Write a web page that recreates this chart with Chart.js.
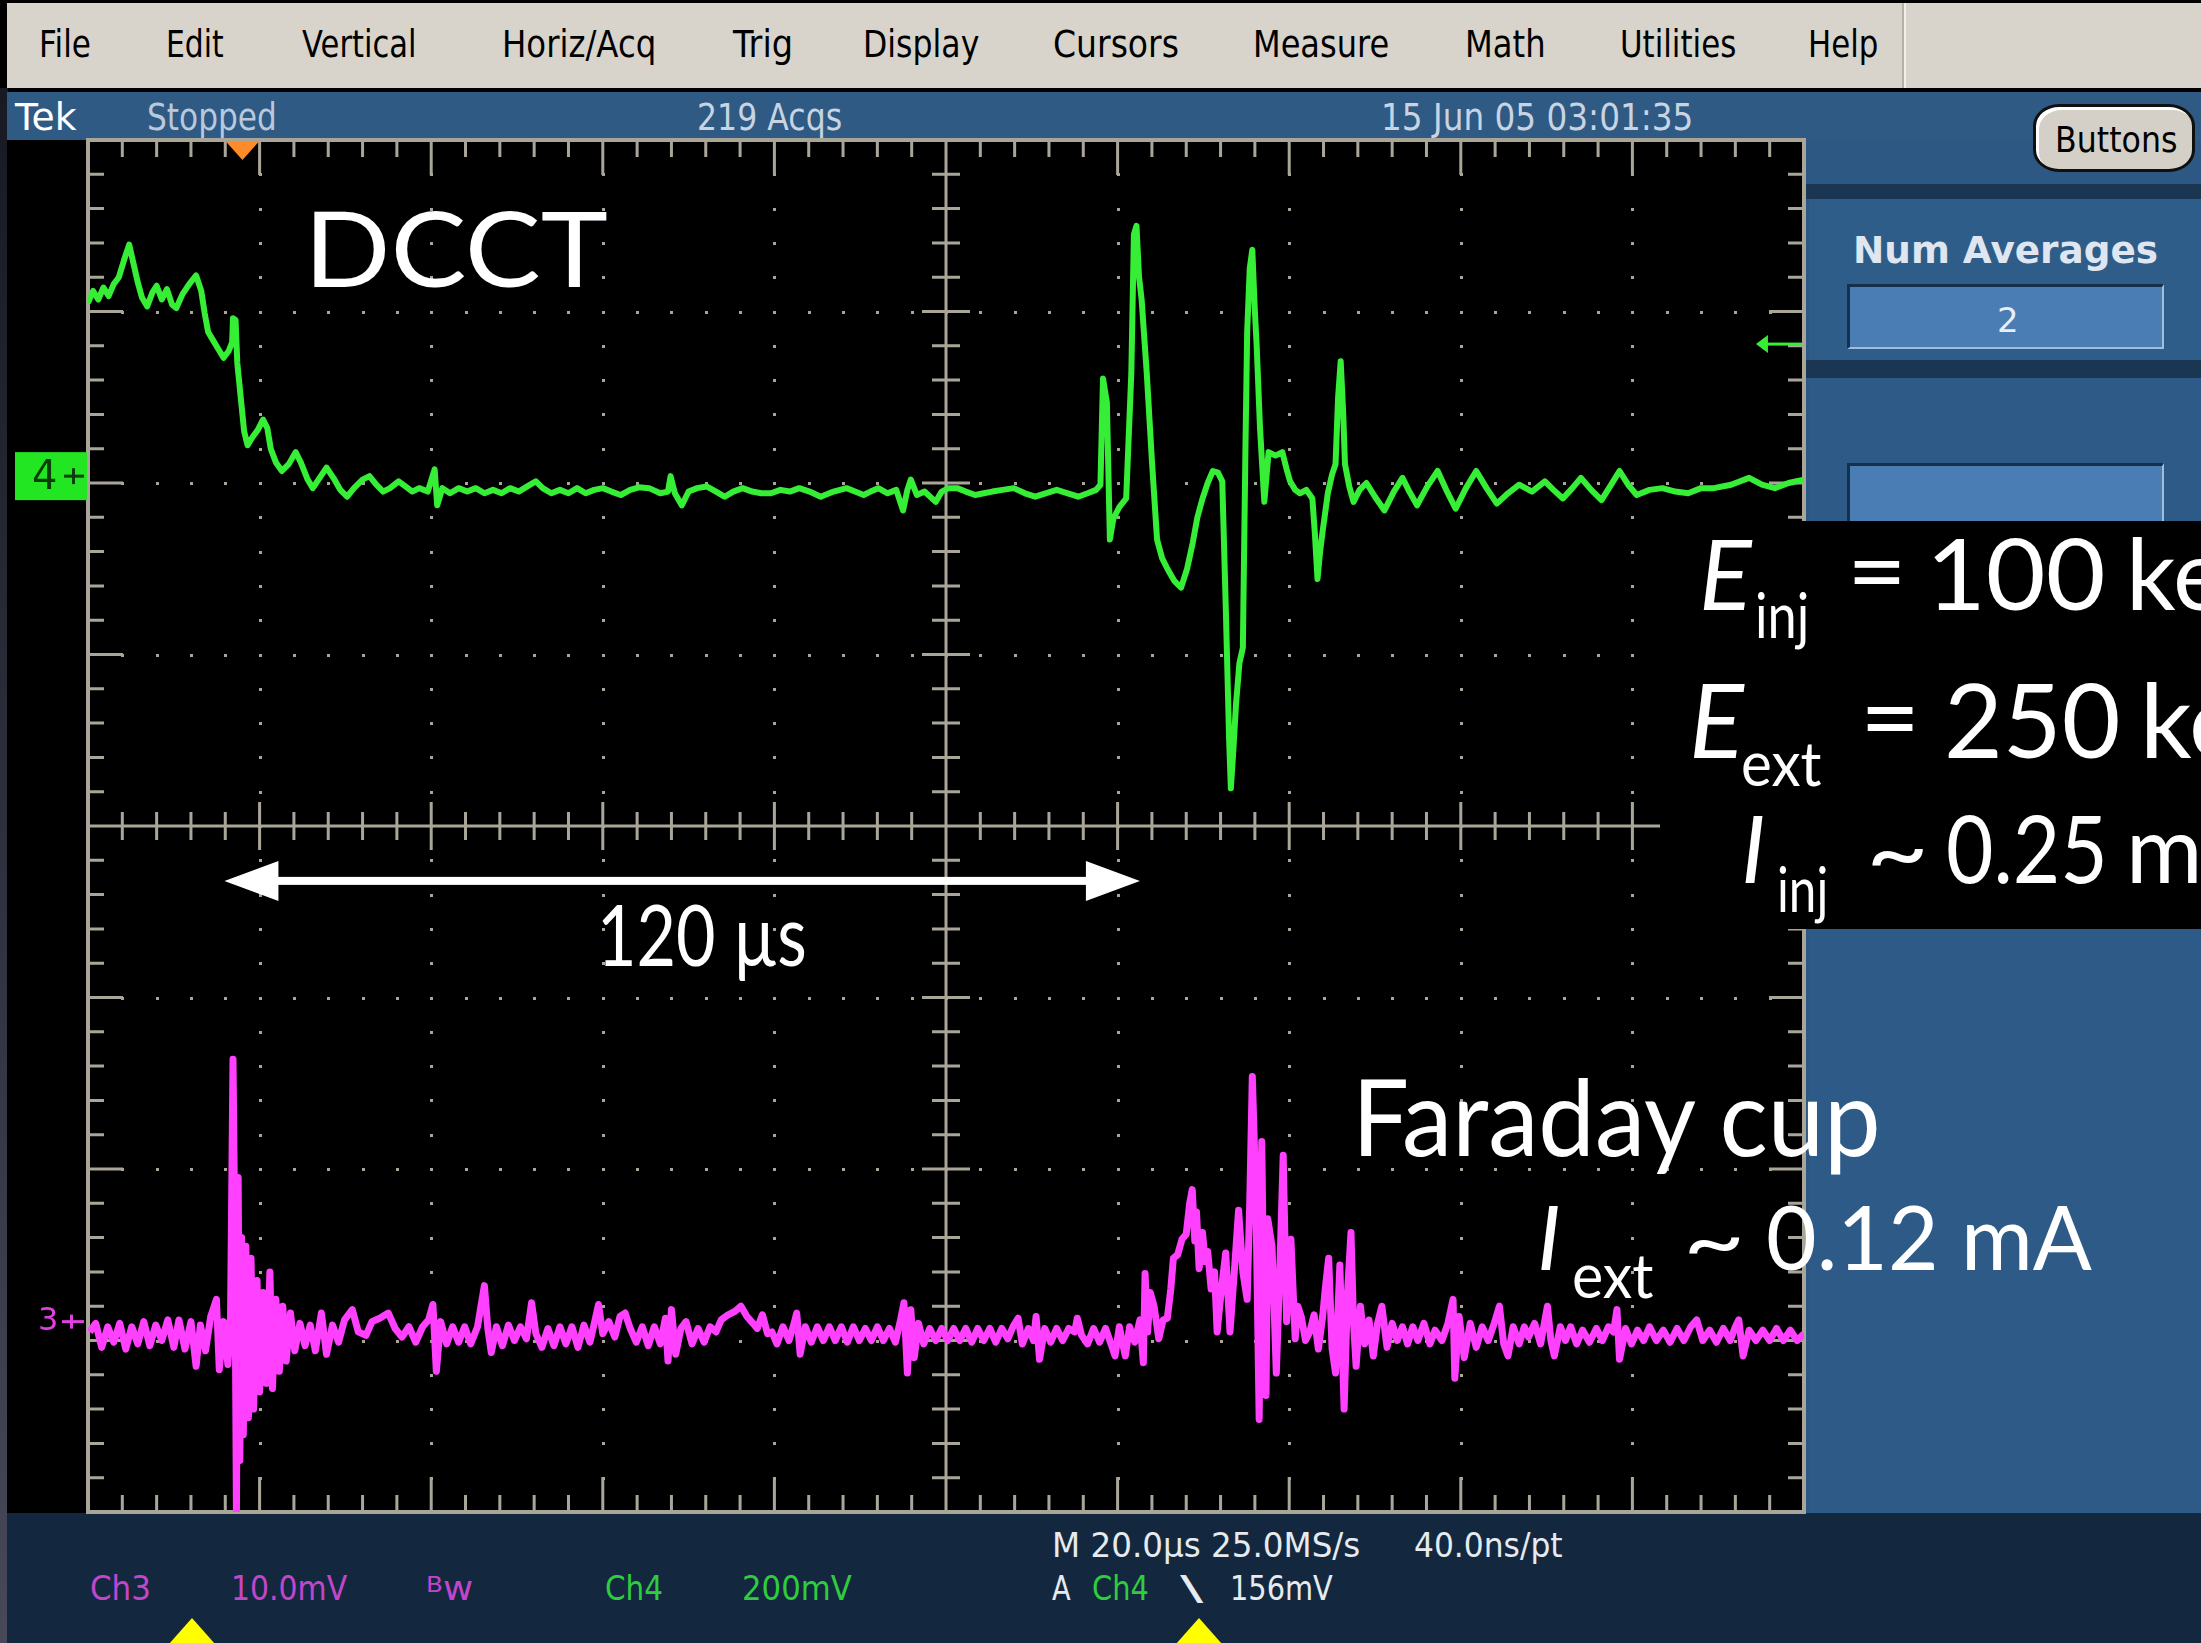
<!DOCTYPE html>
<html>
<head>
<meta charset="utf-8">
<script src="https://cdn.jsdelivr.net/npm/chart.js@4.4.1/dist/chart.umd.min.js"></script>
<style>
  body { margin: 0; width: 2201px; height: 1643px; overflow: hidden; background: #000; position: relative; font-family: "DejaVu Sans", sans-serif; }
  .b { position: absolute; }
  #strip { left: 0; top: 88px; width: 8px; height: 1555px; background: linear-gradient(#171923, #474858); }
  #menu { left: 7px; top: 3px; width: 2194px; height: 85px; background: #d8d4cc; }
  #menusep { left: 1902px; top: 3px; width: 2px; height: 85px; background: #b5b1a9; border-right: 2px solid #f2f0ec; }
  #status { left: 7px; top: 92px; width: 2194px; height: 48px; background: #2e5a84; }
  #side { left: 1806px; top: 140px; width: 395px; height: 1373px; background: #2d5883; }
  .band { left: 1804px; width: 397px; background: #1b3652; }
  .panel { left: 1809px; width: 392px; background: #2f5d8a; }
  .field { left: 1847px; width: 317px; box-sizing: border-box; background: #4a7db3;
           border-top: 3px solid #14304c; border-left: 3px solid #14304c;
           border-bottom: 2px solid #a0bed9; border-right: 2px solid #a0bed9; }
  #btn { left: 2033px; top: 104px; width: 162px; height: 68px; box-sizing: border-box; background: #d4d0c8;
         border: 3px solid #101010; border-radius: 26px / 22px; box-shadow: inset 3px 3px 0 #ffffff; }
  #plotbg { left: 7px; top: 140px; width: 1799px; height: 1373px; background: #000; }
  #foot { left: 7px; top: 1513px; width: 2194px; height: 130px; background: #13283f; }
  .tri { width: 46px; height: 26px; top: 1618px; background: #ffff00; clip-path: polygon(50% 0, 100% 100%, 0 100%); }
  #scope { position: absolute; left: 0; top: 0; z-index: 1; }
  #box { left: 1660px; top: 521px; width: 541px; height: 408px; background: #000; z-index: 2; }

  .t { position: absolute; white-space: nowrap; transform-origin: 0 0; line-height: 1.2; }
  .bl { display: inline-block; width: 0; height: 0; vertical-align: baseline; }
  .mn { font-size: 37px; color: #000; }
  .st { font-size: 37px; color: #c8d4e2; }
  .ft { font-size: 33px; color: #e6ebf0; }
  .mg { color: #c146cc; }
  .gr { color: #2fcc3e; }
  .ov { font-family: Lato, "Open Sans", sans-serif; color: #fff; z-index: 3; }
  .it { font-style: italic; }
</style>
</head>
<body>
<div class="b" id="strip"></div>
<div class="b" id="menu"></div>
<div class="b" id="menusep"></div>
<div class="b" id="status"></div>
<div class="b" id="side"></div>
<div class="b band" style="top:184px;height:15px"></div>
<div class="b panel" style="top:199px;height:161px"></div>
<div class="b band" style="top:360px;height:18px"></div>
<div class="b panel" style="top:378px;height:1135px;background:#2e5a87"></div>
<div class="b field" style="top:284px;height:65px"></div>
<div class="b field" style="top:463px;height:70px"></div>
<div class="b" id="btn"></div>
<div class="b" id="plotbg"></div>
<div class="b" id="foot"></div>
<div class="b tri" style="left:169px"></div>
<div class="b tri" style="left:1176px"></div>

<!-- menu bar -->
<span class="t mn" data-x="39" data-b="57" data-w="52">File</span>
<span class="t mn" data-x="166" data-b="57" data-w="58">Edit</span>
<span class="t mn" data-x="302" data-b="57" data-w="115">Vertical</span>
<span class="t mn" data-x="502" data-b="57" data-w="154">Horiz/Acq</span>
<span class="t mn" data-x="733" data-b="57" data-w="60">Trig</span>
<span class="t mn" data-x="863" data-b="57" data-w="116">Display</span>
<span class="t mn" data-x="1053" data-b="57" data-w="126">Cursors</span>
<span class="t mn" data-x="1253" data-b="57" data-w="136">Measure</span>
<span class="t mn" data-x="1465" data-b="57" data-w="81">Math</span>
<span class="t mn" data-x="1620" data-b="57" data-w="116">Utilities</span>
<span class="t mn" data-x="1808" data-b="57" data-w="70">Help</span>

<!-- status line -->
<span class="t st" style="color:#fff" data-x="15" data-b="130" data-w="62">Tek</span>
<span class="t st" style="color:#b9c9dc" data-x="147" data-b="130" data-w="130">Stopped</span>
<span class="t st" data-x="697" data-b="130" data-w="145">219 Acqs</span>
<span class="t st" data-x="1381" data-b="130" data-w="312">15 Jun 05 03:01:35</span>

<!-- side panel -->
<span class="t" style="font-size:35px;color:#000" data-x="2055" data-b="152" data-w="122">Buttons</span>
<span class="t" style="font-size:37px;font-weight:bold;color:#dfe6f0" data-x="1853" data-b="263" data-w="305">Num Averages</span>
<span class="t" style="font-size:34px;color:#e8eef5" data-x="1997" data-b="332">2</span>

<!-- readout -->
<span class="t ft mg" data-x="90" data-b="1600" data-w="61">Ch3</span>
<span class="t ft mg" data-x="231" data-b="1600" data-w="116">10.0mV</span>
<span class="t ft mg" data-x="426" data-b="1600" data-w="47"><small style="font-size:22px;vertical-align:8px">B</small>w</span>
<span class="t ft gr" data-x="605" data-b="1600" data-w="58">Ch4</span>
<span class="t ft gr" data-x="742" data-b="1600" data-w="110">200mV</span>
<span class="t ft" data-x="1052" data-b="1557" data-w="308">M 20.0µs 25.0MS/s</span>
<span class="t ft" data-x="1414" data-b="1557" data-w="149">40.0ns/pt</span>
<span class="t ft" data-x="1052" data-b="1600" data-w="19">A</span>
<span class="t ft gr" data-x="1092" data-b="1600" data-w="57">Ch4</span>
<span class="t ft" data-x="1180" data-b="1600" data-w="23">\</span>
<span class="t ft" data-x="1230" data-b="1600" data-w="103">156mV</span>

<canvas id="scope" width="2201" height="1643"></canvas>

<!-- slide annotations -->
<span class="t ov" style="font-size:104px" data-x="304" data-b="287" data-w="304">DCCT</span>
<span class="t ov" style="font-size:85px" data-x="597" data-b="966" data-w="210">120 µs</span>
<span class="t ov" style="font-size:106px" data-x="1352" data-b="1156" data-w="529">Faraday cup</span>
<span class="t ov it" style="font-size:90px" data-x="1537" data-b="1270">I</span>
<span class="t ov" style="font-size:62px" data-x="1572" data-b="1298" data-w="81">ext</span>
<span class="t ov" style="font-size:90px" data-x="1683" data-b="1272" data-w="62">~</span>
<span class="t ov" style="font-size:90px" data-x="1766" data-b="1270" data-w="326">0.12 mA</span>

<div class="b" id="box"></div>
<span class="t ov it" style="font-size:98px" data-x="1699" data-b="610">E</span>
<span class="t ov" style="font-size:62px" data-x="1755" data-b="638" data-w="54">inj</span>
<span class="t ov" style="font-size:98px" data-x="1847" data-b="606" data-w="60">=</span>
<span class="t ov" style="font-size:98px" data-x="1926" data-b="610" data-w="180">100</span>
<span class="t ov" style="font-size:98px" data-x="2126" data-b="610">keV</span>
<span class="t ov it" style="font-size:102px" data-x="1689" data-b="758">E</span>
<span class="t ov" style="font-size:62px" data-x="1741" data-b="786" data-w="80">ext</span>
<span class="t ov" style="font-size:102px" data-x="1860" data-b="754" data-w="60">=</span>
<span class="t ov" style="font-size:102px" data-x="1944" data-b="758" data-w="176">250</span>
<span class="t ov" style="font-size:102px" data-x="2140" data-b="758">keV</span>
<span class="t ov it" style="font-size:93px" data-x="1741" data-b="883">I</span>
<span class="t ov" style="font-size:62px" data-x="1777" data-b="912" data-w="51">inj</span>
<span class="t ov" style="font-size:93px" data-x="1866" data-b="885" data-w="63">~</span>
<span class="t ov" style="font-size:93px" data-x="1946" data-b="883" data-w="162">0.25</span>
<span class="t ov" style="font-size:93px" data-x="2126" data-b="883">mA</span>

<script>
// time axis in µs (20 µs/div), vertical axis in screen divisions
const timeRange = [0, 200];
const divRange = [-4, 4];

// Ch4 (DCCT), [µs, div]
const ch4Points = [
  [0, 3.05], [0.6, 3.12], [1.2, 3.07], [1.8, 3.14], [2.4, 3.09], [3.0, 3.16], [3.6, 3.20], [4.2, 3.30],
  [4.8, 3.39], [5.3, 3.28], [5.8, 3.17], [6.3, 3.08], [6.9, 3.03], [7.5, 3.11], [8.0, 3.15], [8.6, 3.07],
  [9.2, 3.13], [9.8, 3.04], [10.3, 3.02], [11.0, 3.10], [11.8, 3.16], [12.6, 3.21], [13.2, 3.12], [13.6, 2.99],
  [14.0, 2.88], [14.6, 2.83], [15.2, 2.78], [15.8, 2.73], [16.4, 2.77], [16.8, 2.82], [16.9, 2.96], [17.2, 2.95],
  [17.4, 2.70], [17.8, 2.50], [18.2, 2.30], [18.6, 2.22], [19.2, 2.27], [19.8, 2.31], [20.4, 2.37], [20.9, 2.32],
  [21.3, 2.20], [21.9, 2.12], [22.6, 2.07], [23.4, 2.11], [24.2, 2.18], [24.8, 2.12], [25.6, 2.02], [26.2, 1.97],
  [27.0, 2.03], [27.8, 2.09], [28.6, 2.03], [29.4, 1.96], [30.2, 1.92], [31.0, 1.97], [32.0, 2.02], [32.8, 2.04],
  [33.6, 1.99], [34.4, 1.95], [35.2, 1.97], [36.2, 2.01], [37.0, 1.98], [37.8, 1.95], [38.6, 1.97],
  [39.6, 1.95], [40.4, 2.08], [40.7, 1.87], [41.3, 1.97], [42.2, 1.94], [43.2, 1.97], [44.2, 1.95], [45.2, 1.97],
  [46.2, 1.94], [47.2, 1.96], [48.2, 1.94], [49.2, 1.97], [50.2, 1.95], [51.2, 1.98], [52.2, 2.01], [53.0, 1.97],
  [54.0, 1.94], [55.0, 1.96], [56.0, 1.94], [57.0, 1.97], [58.0, 1.94], [59.0, 1.96],
  [60.0, 1.97], [61.0, 1.95], [62.1, 1.93], [63.2, 1.96], [64.2, 1.975], [65.4, 1.97], [66.7, 1.94], [67.6, 1.95],
  [67.9, 2.04], [68.4, 1.94], [69.2, 1.87], [70.0, 1.95], [71.0, 1.97], [72.1, 1.98], [73.2, 1.95], [74.2, 1.92],
  [75.2, 1.95], [76.3, 1.97], [77.4, 1.95], [78.5, 1.94], [79.6, 1.94], [80.7, 1.96], [81.8, 1.95], [82.9, 1.97],
  [84.1, 1.95], [85.4, 1.92], [86.9, 1.95], [88.4, 1.97], [89.4, 1.95], [90.4, 1.93], [91.2, 1.95], [92.1, 1.97],
  [93.2, 1.94], [94.2, 1.96], [95.0, 1.84], [95.5, 1.96], [95.9, 2.02], [96.6, 1.93], [97.5, 1.95], [98.8, 1.89],
  [99.5, 1.95], [100.3, 1.97], [101.3, 1.97], [102.3, 1.95], [103.4, 1.93], [104.4, 1.94], [105.4, 1.95], [106.6, 1.96],
  [107.9, 1.97], [109.2, 1.94], [110.4, 1.92], [111.6, 1.94], [112.9, 1.96], [114.2, 1.94], [115.4, 1.92], [116.5, 1.94],
  [117.5, 1.96],
  [118.0, 1.99], [118.3, 2.61], [118.75, 2.47], [119.1, 1.67], [119.5, 1.79], [120.2, 1.86], [121.0, 1.91], [121.6, 2.64],
  [121.9, 3.45], [122.2, 3.50], [122.5, 3.20], [122.8, 3.07], [123.4, 2.64], [124.0, 2.13], [124.6, 1.67], [125.2, 1.56],
  [125.8, 1.50], [126.6, 1.43], [127.4, 1.39], [128.1, 1.50], [128.75, 1.65], [129.3, 1.80], [129.9, 1.91], [130.5, 2.00],
  [131.1, 2.07], [131.7, 2.06], [132.2, 2.01], [132.6, 1.29], [133.0, 0.50], [133.2, 0.22], [133.5, 0.45], [133.8, 0.71],
  [134.2, 0.95], [134.6, 1.04], [134.9, 2.20], [135.1, 2.88], [135.4, 3.25], [135.7, 3.36], [136.0, 3.00], [136.2, 2.81],
  [136.6, 2.32], [137.1, 1.89], [137.6, 2.18], [138.4, 2.16], [139.2, 2.18], [139.7, 2.08], [140.1, 2.01], [140.7, 1.96],
  [141.25, 1.94], [142.0, 1.96], [142.7, 1.91], [143.0, 1.70], [143.3, 1.44], [143.6, 1.60], [143.9, 1.72], [144.5, 1.94],
  [145.0, 2.05], [145.4, 2.11], [145.7, 2.50], [146.0, 2.71], [146.3, 2.40], [146.5, 2.11], [147.0, 1.98], [147.5, 1.89],
  [148.2, 1.96], [149.0, 2.00], [150.0, 1.92], [151.1, 1.84], [152.2, 1.95], [153.2, 2.03], [154.0, 1.95], [154.9, 1.87],
  [156.1, 1.98], [157.3, 2.07], [158.3, 1.96], [159.4, 1.85], [160.6, 1.97], [161.8, 2.07], [163.0, 1.97], [164.2, 1.88],
  [165.5, 1.94], [166.8, 1.99], [168.3, 1.95], [169.8, 2.01], [170.8, 1.96], [171.9, 1.91], [173.0, 1.97], [174.0, 2.03],
  [175.2, 1.96], [176.4, 1.90], [177.4, 1.98], [178.5, 2.07], [179.5, 1.99], [180.5, 1.93], [182.0, 1.96], [183.5, 1.97],
  [185.0, 1.95], [186.5, 1.94], [188.0, 1.97], [189.5, 1.97], [191.5, 1.99], [193.6, 2.03], [195.1, 1.99], [196.6, 1.97],
  [198.2, 2.00], [200.0, 2.02]
];

// Ch3 (Faraday cup), [µs, div]
const ch3Points = [
  [0.2, -2.95], [0.9, -2.90], [1.6, -3.04], [2.3, -2.92], [3.0, -3.01], [3.7, -2.90], [4.4, -3.05], [5.1, -2.92],
  [5.8, -3.02], [6.5, -2.89], [7.2, -3.03], [7.9, -2.91], [8.6, -3.00], [9.3, -2.88], [10.0, -3.04], [10.6, -2.88],
  [11.3, -3.05], [12.0, -2.89], [12.6, -3.15], [13.1, -2.91], [13.7, -3.06], [14.3, -2.86], [14.97, -2.76], [15.3, -3.17],
  [15.8, -2.89], [16.3, -3.14], [16.6, -2.92], [16.9, -1.36], [17.1, -2.30], [17.3, -4.00], [17.5, -2.05], [17.7, -3.70],
  [17.9, -2.40], [18.1, -3.55], [18.4, -2.45], [18.7, -3.45], [19.0, -2.52], [19.3, -3.40], [19.7, -2.65], [20.0, -3.30],
  [20.4, -2.72], [20.8, -3.25], [21.2, -2.60], [21.5, -3.28], [21.9, -2.76], [22.3, -3.18], [22.7, -2.80], [23.1, -3.12],
  [23.6, -2.84], [24.1, -3.06], [24.7, -2.90], [25.3, -3.03], [25.9, -2.91], [26.5, -3.06], [27.2, -2.84], [27.8, -3.08],
  [28.5, -2.91], [29.2, -3.01], [29.9, -2.88], [30.8, -2.82], [31.5, -2.95], [32.4, -2.97], [33.1, -2.89], [34.0, -2.87],
  [35.0, -2.84], [35.8, -2.93], [36.6, -2.98], [37.4, -2.92], [38.2, -3.01], [39.0, -2.92], [39.7, -2.88], [40.2, -2.79],
  [40.6, -3.18], [41.1, -2.89], [41.8, -3.02], [42.5, -2.92], [43.2, -3.01], [43.9, -2.92], [44.6, -3.02], [45.4, -2.92],
  [46.2, -2.68], [46.6, -2.93], [47.0, -3.07], [47.6, -2.92], [48.3, -3.03], [49.0, -2.91], [49.7, -3.00], [50.4, -2.92],
  [51.1, -2.99], [51.7, -2.78], [52.2, -2.96], [52.9, -3.04], [53.6, -2.93], [54.3, -3.03], [55.0, -2.92], [55.7, -3.02],
  [56.4, -2.92], [57.1, -3.04], [57.8, -2.91], [58.5, -3.01], [59.1, -2.88], [59.5, -2.79], [60.0, -2.96], [60.7, -2.89],
  [61.4, -2.98], [62.0, -2.86], [62.6, -2.84], [63.2, -2.93], [63.9, -3.01], [64.6, -2.92], [65.3, -3.03], [66.0, -2.92],
  [66.7, -3.02], [67.3, -2.87], [67.6, -3.12], [68.0, -2.82], [68.5, -3.08], [69.1, -2.93], [69.7, -2.89], [70.4, -3.02],
  [71.1, -2.93], [71.8, -3.01], [72.5, -2.92], [73.2, -2.95], [73.8, -2.88], [74.6, -2.85], [75.4, -2.83], [76.1, -2.80],
  [76.8, -2.86], [77.5, -2.90], [78.0, -2.93], [78.6, -2.85], [79.2, -2.96], [79.7, -2.95], [80.3, -3.02], [81.0, -2.92],
  [81.7, -3.00], [82.3, -2.90], [82.6, -2.84], [83.0, -3.08], [83.6, -2.92], [84.3, -3.01], [85.0, -2.92], [85.7, -3.00],
  [86.4, -2.92], [87.1, -3.00], [87.8, -2.92], [88.5, -3.01], [89.2, -2.92], [89.9, -3.00], [90.6, -2.93], [91.3, -3.00],
  [92.0, -2.92], [92.7, -3.00], [93.4, -2.93], [94.1, -3.01], [94.7, -2.88], [95.1, -2.78], [95.5, -3.19], [95.9, -2.82],
  [96.3, -3.10], [96.8, -2.90], [97.4, -3.02], [98.1, -2.93], [98.8, -3.00], [99.5, -2.93], [100.2, -3.00], [100.9, -2.93],
  [101.6, -3.00], [102.3, -2.93], [103.0, -3.01], [103.7, -2.93], [104.4, -3.00], [105.1, -2.93], [105.8, -3.01], [106.5, -2.93],
  [107.2, -2.99], [107.8, -2.92], [108.4, -2.87], [108.9, -3.02], [109.6, -2.93], [110.2, -3.00], [110.5, -2.86], [110.9, -3.11],
  [111.5, -2.93], [112.2, -3.01], [112.9, -2.93], [113.6, -3.00], [114.3, -2.93], [115.0, -2.95], [115.3, -2.87], [115.8, -2.97],
  [116.5, -3.02], [117.2, -2.93], [117.9, -3.01], [118.6, -2.93], [119.3, -3.03], [119.7, -3.09], [120.2, -2.92], [120.6, -3.02],
  [120.9, -3.09], [121.4, -2.92], [122.0, -3.01], [122.6, -2.88], [123.0, -3.13], [123.2, -2.61], [123.5, -2.95], [123.8, -2.72],
  [124.25, -2.80], [124.8, -2.99], [125.3, -2.88], [125.8, -2.87], [126.2, -2.70], [126.5, -2.52], [127.0, -2.50], [127.5, -2.41],
  [128.0, -2.38], [128.4, -2.20], [128.7, -2.12], [129.0, -2.42], [129.2, -2.25], [129.5, -2.58], [129.9, -2.37], [130.2, -2.54],
  [130.5, -2.48], [130.9, -2.70], [131.3, -2.60], [131.6, -2.95], [132.1, -2.70], [132.6, -2.49], [133.1, -2.95], [133.6, -2.60],
  [134.1, -2.24], [134.6, -2.60], [135.1, -2.76], [135.4, -2.20], [135.7, -1.46], [136.1, -2.12], [136.5, -3.46], [136.8, -1.84],
  [137.0, -2.60], [137.3, -3.32], [137.5, -2.29], [138.0, -2.45], [138.5, -3.19], [138.9, -2.60], [139.3, -1.92], [139.7, -2.89],
  [140.2, -2.41], [140.7, -2.99], [141.0, -2.80], [141.4, -2.86], [141.9, -3.00], [142.4, -2.95], [142.9, -2.85], [143.4, -3.05],
  [143.9, -2.86], [144.2, -2.70], [144.6, -2.52], [145.0, -3.05], [145.4, -3.19], [145.9, -2.56], [146.4, -3.40], [146.8, -2.72],
  [147.2, -2.37], [147.5, -2.90], [147.8, -3.15], [148.3, -2.80], [148.8, -3.02], [149.3, -2.88], [149.8, -3.09], [150.3, -2.90],
  [150.8, -2.80], [151.4, -3.04], [152.0, -2.90], [152.6, -3.00], [153.2, -2.92], [153.8, -3.02], [154.4, -2.92], [155.0, -3.00],
  [155.7, -2.90], [156.4, -3.02], [157.0, -2.94], [157.8, -3.00], [158.5, -2.90], [159.1, -2.76], [159.3, -3.22], [159.8, -2.86],
  [160.4, -3.10], [161.1, -2.90], [161.8, -3.04], [162.5, -2.92], [163.2, -3.00], [163.9, -2.90], [164.5, -2.80], [165.0, -3.02],
  [165.5, -3.09], [166.1, -2.92], [166.8, -3.02], [167.4, -2.92], [167.9, -2.98], [168.6, -2.90], [169.3, -3.02], [170.1, -2.80],
  [170.5, -3.00], [170.9, -3.09], [171.6, -2.92], [172.2, -3.00], [172.8, -2.92], [173.5, -3.02], [174.2, -2.94], [175.0, -3.01],
  [175.8, -2.93], [176.5, -3.00], [177.2, -2.92], [177.8, -2.95], [178.2, -2.82], [178.5, -3.11], [179.2, -2.93], [179.9, -3.02],
  [180.6, -2.94], [181.3, -3.00], [182.0, -2.92], [182.8, -3.00], [183.6, -2.94], [184.4, -3.01], [185.2, -2.93], [186.0, -3.00],
  [186.8, -2.92], [187.5, -2.88], [188.2, -3.00], [189.0, -2.94], [189.8, -3.01], [190.6, -2.93], [191.4, -3.00], [192.0, -2.92],
  [192.4, -2.88], [192.9, -3.09], [193.6, -2.94], [194.4, -3.00], [195.2, -2.94], [196.0, -3.00], [196.8, -2.93], [197.6, -3.00],
  [198.4, -2.94], [199.2, -3.00], [200.0, -2.96]
];

const channelLevels = [2.04, -2.89];   // ground markers for Ch4, Ch3 (div)
const triggerTime = [18];              // µs, orange marker on top edge
const triggerLevel = [2.81];           // div, Ch4 trigger arrow
const spanTimes = [15.9, 122.6];       // µs, white double arrow
const spanLevel = [-0.32];             // div

const GRID = '#a9a598';
const GREEN = '#36ee36';
const MAGENTA = '#ff40ff';

const graticule = {
  id: 'graticule',
  beforeDatasetsDraw(chart) {
    const { ctx, chartArea: a, scales: { x, y } } = chart;
    ctx.save();
    ctx.fillStyle = GRID;
    for (let i = 1; i < 10; i++) {
      if (i === 5) continue;
      const px = Math.round(x.getPixelForValue(i * 20));
      for (let k = 1; k < 40; k++) {
        const py = Math.round(y.getPixelForValue(-4 + k * 0.2));
        ctx.fillRect(px - 1, py - 1, 3, 3);
      }
    }
    for (let j = -3; j <= 3; j++) {
      if (j === 0) continue;
      const py = Math.round(y.getPixelForValue(j));
      for (let k = 1; k < 50; k++) {
        const px = Math.round(x.getPixelForValue(k * 4));
        ctx.fillRect(px - 1, py - 1, 3, 3);
      }
    }
    ctx.strokeStyle = GRID;
    ctx.lineWidth = 3;
    ctx.beginPath();
    const cx = x.getPixelForValue(100), cy = y.getPixelForValue(0);
    ctx.moveTo(cx, a.top); ctx.lineTo(cx, a.bottom);
    ctx.moveTo(a.left, cy); ctx.lineTo(a.right, cy);
    for (let k = 1; k < 50; k++) {
      const px = x.getPixelForValue(k * 4);
      const h = k % 5 ? 14 : 24, m = k % 5 ? 17 : 35;
      ctx.moveTo(px, cy - h); ctx.lineTo(px, cy + h);
      ctx.moveTo(px, a.top); ctx.lineTo(px, a.top + m);
      ctx.moveTo(px, a.bottom); ctx.lineTo(px, a.bottom - m);
    }
    for (let k = 1; k < 40; k++) {
      const py = y.getPixelForValue(-4 + k * 0.2);
      const h = k % 5 ? 14 : 24, m = k % 5 ? 16 : 35;
      ctx.moveTo(cx - h, py); ctx.lineTo(cx + h, py);
      ctx.moveTo(a.left, py); ctx.lineTo(a.left + m, py);
      ctx.moveTo(a.right, py); ctx.lineTo(a.right - m, py);
    }
    ctx.stroke();
    ctx.lineWidth = 4;
    ctx.strokeRect(a.left, a.top, a.right - a.left, a.bottom - a.top);
    ctx.restore();
  }
};

const markers = {
  id: 'markers',
  afterDatasetsDraw(chart) {
    const { ctx, chartArea: a, scales: { x, y } } = chart;
    ctx.save();

    // Ch4 ground marker
    let yy = y.getPixelForValue(channelLevels[0]);
    ctx.fillStyle = '#22e622';
    ctx.fillRect(15, yy - 24, 72, 48);
    ctx.fillStyle = '#0b3d0b';
    ctx.font = '40px "DejaVu Sans"';
    ctx.textBaseline = 'middle';
    ctx.fillText('4', 32, yy + 2);
    ctx.fillRect(64, yy - 1.5, 20, 3);
    ctx.fillRect(72, yy - 8, 3, 16);

    // Ch3 ground marker
    yy = y.getPixelForValue(channelLevels[1]);
    ctx.fillStyle = '#e040e0';
    ctx.font = '32px "DejaVu Sans"';
    ctx.fillText('3', 38, yy);
    ctx.fillRect(62, yy - 1.5, 22, 3);
    ctx.fillRect(70, yy - 7, 3, 14);

    // trigger position
    const tx = x.getPixelForValue(triggerTime[0]);
    ctx.fillStyle = '#ff8a2a';
    ctx.beginPath();
    ctx.moveTo(tx - 17, a.top + 1); ctx.lineTo(tx + 17, a.top + 1); ctx.lineTo(tx, a.top + 20);
    ctx.closePath(); ctx.fill();

    // trigger level arrow
    const ly = y.getPixelForValue(triggerLevel[0]);
    const lx = x.getPixelForValue(194.4);
    ctx.fillStyle = GREEN;
    ctx.fillRect(lx + 8, ly - 1.5, a.right - lx - 10, 3);
    ctx.beginPath();
    ctx.moveTo(lx, ly); ctx.lineTo(lx + 12, ly - 9); ctx.lineTo(lx + 12, ly + 9);
    ctx.closePath(); ctx.fill();

    // white double arrow spanning 120 µs
    const ay = y.getPixelForValue(spanLevel[0]);
    const x0 = x.getPixelForValue(spanTimes[0]), x1 = x.getPixelForValue(spanTimes[1]);
    ctx.fillStyle = '#ffffff';
    ctx.fillRect(x0 + 40, ay - 4, x1 - x0 - 80, 8);
    ctx.beginPath();
    ctx.moveTo(x0, ay); ctx.lineTo(x0 + 54, ay - 20); ctx.lineTo(x0 + 54, ay + 20); ctx.closePath();
    ctx.moveTo(x1, ay); ctx.lineTo(x1 - 54, ay - 20); ctx.lineTo(x1 - 54, ay + 20); ctx.closePath();
    ctx.fill();

    ctx.restore();
  }
};

new Chart(document.getElementById('scope'), {
  type: 'line',
  data: {
    datasets: [
      {
        label: 'Ch4 DCCT',
        data: ch4Points.map(([t, v]) => ({ x: t, y: v })),
        borderColor: GREEN,
        borderWidth: 6,
        borderJoinStyle: 'round',
        pointRadius: 0,
        tension: 0
      },
      {
        label: 'Ch3 Faraday cup',
        data: ch3Points.map(([t, v]) => ({ x: t, y: v })),
        borderColor: MAGENTA,
        borderWidth: 7,
        borderJoinStyle: 'round',
        pointRadius: 0,
        tension: 0
      }
    ]
  },
  options: {
    responsive: false,
    animation: false,
    devicePixelRatio: 1,
    layout: { padding: { left: 88, top: 140, right: 397, bottom: 131 } },
    scales: {
      x: { type: 'linear', min: timeRange[0], max: timeRange[1], display: false },
      y: { type: 'linear', min: divRange[0], max: divRange[1], display: false }
    },
    plugins: { legend: { display: false }, tooltip: { enabled: false } }
  },
  plugins: [graticule, markers]
});

// place text by left edge / baseline, squeeze to the measured width
function placeTexts() {
  document.querySelectorAll('.t').forEach(el => {
    el.style.transform = '';
    const old = el.querySelector('.bl');
    if (old) old.remove();
    el.style.left = el.dataset.x + 'px';
    const w = Number(el.dataset.w);
    if (w) el.style.transform = 'scaleX(' + (w / el.offsetWidth) + ')';
    const mark = document.createElement('i');
    mark.className = 'bl';
    el.appendChild(mark);
    el.style.top = (Number(el.dataset.b) - mark.offsetTop) + 'px';
  });
}
placeTexts();
if (document.fonts) document.fonts.ready.then(placeTexts);
</script>
</body>
</html>
